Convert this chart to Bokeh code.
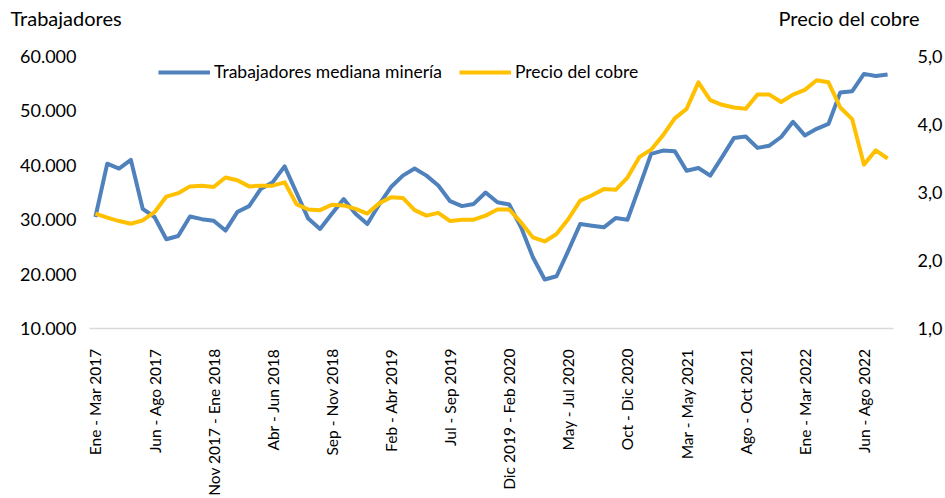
import math
from bokeh.plotting import figure
from bokeh.models import (Range1d, LinearAxis, FixedTicker, Legend, LegendItem,
                          Label, ColumnDataSource)
from bokeh.embed import file_html
from bokeh.resources import INLINE

# ---- data ----
workers = [30500, 40300, 39400, 41000, 32000, 30500, 26400, 27000, 30600, 30100,
           29800, 28000, 31400, 32500, 35700, 36900, 39800, 35000, 30200, 28300,
           31100, 33800, 31100, 29200, 32800, 36000, 38100, 39400, 38100, 36300,
           33400, 32500, 32900, 35000, 33200, 32800, 28600, 23100, 19000, 19600,
           24300, 29200, 28900, 28600, 30300, 30000, 36000, 42100, 42700, 42600,
           39000, 39500, 38100, 41500, 45000, 45300, 43200, 43600, 45200, 48000,
           45500, 46700, 47600, 53400, 53600, 56800, 56400, 56700]
copper = [2.69, 2.63, 2.58, 2.54, 2.59, 2.71, 2.94, 2.99, 3.09, 3.10,
          3.08, 3.22, 3.18, 3.09, 3.10, 3.10, 3.15, 2.83, 2.75, 2.74,
          2.82, 2.81, 2.76, 2.69, 2.84, 2.93, 2.92, 2.74, 2.66, 2.70,
          2.58, 2.60, 2.60, 2.66, 2.75, 2.75, 2.56, 2.34, 2.28, 2.39,
          2.61, 2.88, 2.96, 3.05, 3.04, 3.22, 3.52, 3.63, 3.84, 4.09,
          4.23, 4.62, 4.36, 4.29, 4.25, 4.23, 4.44, 4.44, 4.33, 4.44,
          4.51, 4.65, 4.62, 4.25, 4.08, 3.41, 3.62, 3.50]
period_index = list(range(len(workers)))

x_tick_positions = [0, 5, 10, 15, 20, 25, 30, 35, 40, 45, 50, 55, 60, 65]
x_tick_labels = ["Ene - Mar 2017", "Jun - Ago 2017", "Nov 2017 - Ene 2018",
                 "Abr - Jun 2018", "Sep - Nov 2018", "Feb - Abr 2019",
                 "Jul - Sep 2019", "Dic 2019 - Feb 2020", "May - Jul 2020",
                 "Oct - Dic 2020", "Mar - May 2021", "Ago - Oct 2021",
                 "Ene - Mar 2022", "Jun - Ago 2022"]
left_ticks = [10000, 20000, 30000, 40000, 50000, 60000]
left_tick_labels = ["10.000", "20.000", "30.000", "40.000", "50.000", "60.000"]
right_ticks = [1, 2, 3, 4, 5]
right_tick_labels = ["1,0", "2,0", "3,0", "4,0", "5,0"]

name_workers = "Trabajadores mediana minería"
name_copper = "Precio del cobre"
left_title = "Trabajadores"
right_title = "Precio del cobre"

BLUE = "#4F81BD"
YELLOW = "#FFC000"
FONT = "Lato"
TXT = "#000000"

src = ColumnDataSource(dict(x=period_index, w=workers, c=copper))

p = figure(width=945, height=498, output_backend="svg", toolbar_location=None,
           x_range=Range1d(-0.5, len(workers) - 0.5),
           y_range=Range1d(left_ticks[0], left_ticks[-1]),
           min_border_left=89, min_border_right=50, min_border_top=56,
           min_border_bottom=170)
p.extra_y_ranges = {"cobre": Range1d(right_ticks[0], right_ticks[-1])}
p.outline_line_color = None
p.xgrid.visible = False
p.ygrid.visible = False
p.background_fill_color = "white"
p.border_fill_color = "white"

# x axis
xa = p.xaxis[0]
xa.ticker = FixedTicker(ticks=x_tick_positions)
xa.major_label_overrides = {t: l for t, l in zip(x_tick_positions, x_tick_labels)}
xa.major_label_orientation = math.pi / 2
xa.axis_line_color = "#D9D9D9"
xa.axis_line_width = 1.5
xa.major_tick_line_color = None
xa.minor_tick_line_color = None
xa.major_label_text_font = FONT
xa.major_label_text_font_size = "15.5px"
xa.major_label_text_color = TXT
xa.major_label_standoff = 14

# left axis
ya = p.yaxis[0]
ya.ticker = FixedTicker(ticks=left_ticks)
ya.major_label_overrides = {t: l for t, l in zip(left_ticks, left_tick_labels)}
ya.axis_line_color = None
ya.major_tick_line_color = None
ya.minor_tick_line_color = None
ya.major_label_text_font = FONT
ya.major_label_text_font_size = "18px"
ya.major_label_text_color = TXT
ya.major_label_standoff = 7

# right axis
ra = LinearAxis(y_range_name="cobre")
ra.ticker = FixedTicker(ticks=right_ticks)
ra.major_label_overrides = {t: l for t, l in zip(right_ticks, right_tick_labels)}
ra.axis_line_color = None
ra.major_tick_line_color = None
ra.minor_tick_line_color = None
ra.major_label_text_font = FONT
ra.major_label_text_font_size = "18px"
ra.major_label_text_color = TXT
ra.major_label_standoff = 18
p.add_layout(ra, "right")

r1 = p.line("x", "w", source=src, color=BLUE, line_width=4, line_join="round")
r2 = p.line("x", "c", source=src, color=YELLOW, line_width=4, line_join="round",
            y_range_name="cobre")

legend = Legend(items=[LegendItem(label=name_workers, renderers=[r1]),
                       LegendItem(label=name_copper, renderers=[r2])],
                orientation="horizontal", location=(69, 246),
                border_line_color=None, background_fill_alpha=0,
                glyph_width=52, glyph_height=20, label_standoff=4, spacing=17,
                padding=0, margin=0, label_text_font=FONT,
                label_text_font_size="17.5px", label_text_color=TXT)
p.add_layout(legend)

# axis titles in the top panel (panels there are not clipped to the frame)
p.add_layout(Label(x=-79, y=39, x_units="screen", y_units="screen",
                   text=left_title, text_font=FONT, text_font_size="20px",
                   text_color=TXT, text_baseline="middle", text_align="left"),
             "above")
p.add_layout(Label(x=830, y=15, x_units="screen", y_units="screen",
                   text=right_title, text_font=FONT, text_font_size="20px",
                   text_color=TXT, text_baseline="middle", text_align="right"),
             "above")

open("out.html", "w").write(file_html(p, INLINE))
